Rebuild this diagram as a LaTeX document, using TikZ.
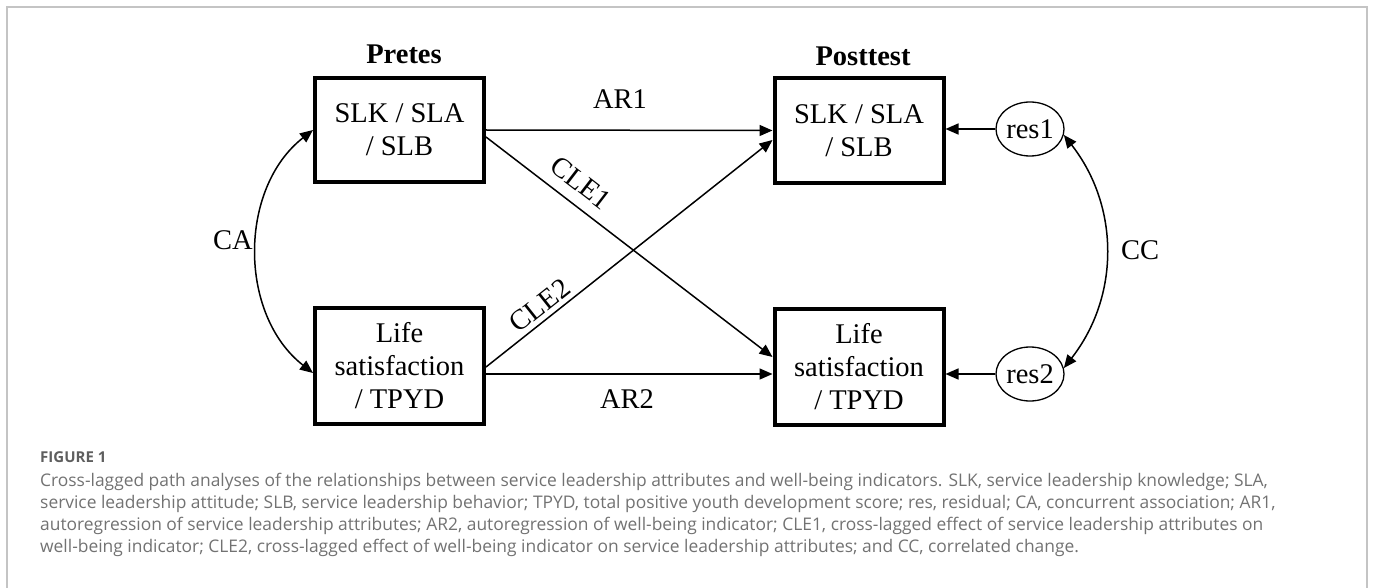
\documentclass[tikz,border=0pt]{standalone}
\usepackage{fontspec}
\setmainfont{Liberation Serif}
\newfontfamily\capfont{Open Sans}
\usetikzlibrary{arrows.meta,shapes.geometric,calc}
\definecolor{capgray}{HTML}{727272}
\definecolor{capdark}{HTML}{5E5E5E}
\definecolor{framegray}{HTML}{C4C4C4}
\begin{document}
\begin{tikzpicture}[x=1pt,y=-1pt,
  box/.style={draw, line width=4pt, minimum width=169pt, align=center, inner sep=0pt, font=\fontsize{28.5}{33}\selectfont},
  resnode/.style={draw, ellipse, line width=1.3pt, minimum width=68pt, minimum height=54pt, inner sep=0pt, font=\fontsize{28.5}{33}\selectfont},
  arr/.style={line width=1.5pt, -{Triangle[length=13pt,width=11pt]}},
  biarr/.style={line width=1.5pt, {Triangle[length=13pt,width=11pt]}-{Triangle[length=13pt,width=11pt]}},
  lbl/.style={font=\fontsize{28.5}{33}\selectfont, inner sep=2pt},
  head/.style={font=\bfseries\fontsize{28.5}{33}\selectfont, anchor=base, inner sep=0pt},
  captext/.style={anchor=base west, inner sep=0pt, text=capgray, font=\capfont\fontsize{17.4}{20}\selectfont}
]
\useasboundingbox (0,0) rectangle (1373,588);
\draw[framegray, line width=1.2pt] (7,620) -- (7,7) -- (1367,7) -- (1367,620);

\node[box, minimum height=104pt] (pre1) at (399.5,130) {SLK / SLA\\/ SLB};
\node[box, minimum height=116pt] (pre2) at (399.5,366) {Life\\satisfaction\\/ TPYD};
\node[box, minimum height=105pt] (post1) at (859,130.5) {SLK / SLA\\/ SLB};
\node[box, minimum height=116pt] (post2) at (859,367) {Life\\satisfaction\\/ TPYD};

\node[head] (hpre) at (404,64) {Pretes};
\node[head] (hpost) at (863,66) {Posttest};

\node[resnode] (r1) at (1030,129) {res1};
\node[resnode] (r2) at (1030,374) {res2};

\draw[arr] (pre1.east) -- (post1.west);
\node[lbl] (lar1) at (620,99) {AR1};
\draw[arr] ([yshift=-8pt]pre2.east) -- ([yshift=-7pt]post2.west);
\node[lbl] (lar2) at (627,399) {AR2};

\draw[arr] ([yshift=-7pt]pre1.east) -- ([yshift=10pt]post2.west)
  node[lbl, pos=0.286, sloped, above=9pt] (lcle1) {CLE1};
\draw[arr] ([yshift=-1pt]pre2.east) -- ([yshift=-9.5pt]post1.west)
  node[lbl, pos=0.22, sloped, above=2.5pt] (lcle2) {CLE2};

\draw[arr] (r1.west) -- (r1.west -| post1.east);
\draw[arr] (r2.west) -- (r2.west -| post2.east);

\draw[biarr] (pre1.west) to[bend right=52] ([yshift=-7pt]pre2.west);
\node[lbl] (lca) at (233,240) {CA};
\draw[biarr] (r1.-10) to[bend left=38] (r2.10);
\node[lbl] (lcc) at (1140,250) {CC};

\node[captext, text=capdark, font=\capfont\bfseries\fontsize{15}{17}\selectfont] (fig) at (40,462) {FIGURE 1};
\node[captext] (c1) at (40,486) {Cross-lagged path analyses of the relationships between service leadership attributes and well-being indicators. SLK, service leadership knowledge; SLA,};
\node[captext] (c2) at (40,508) {service leadership attitude; SLB, service leadership behavior; TPYD, total positive youth development score; res, residual; CA, concurrent association; AR1,};
\node[captext] (c3) at (40,530) {autoregression of service leadership attributes; AR2, autoregression of well-being indicator; CLE1, cross-lagged effect of service leadership attributes on};
\node[captext] (c4) at (40,552) {well-being indicator; CLE2, cross-lagged effect of well-being indicator on service leadership attributes; and CC, correlated change.};
\end{tikzpicture}
\end{document}
